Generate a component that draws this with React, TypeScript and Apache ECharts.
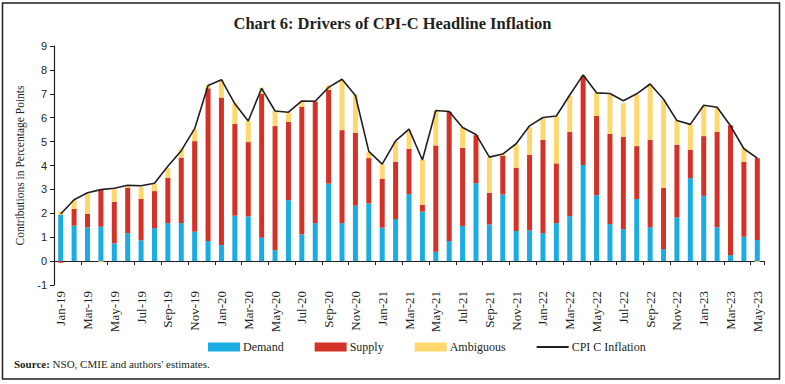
import React, { useEffect, useRef } from "react";
import * as echarts from "echarts";

const months = [
  "Jan-19","Feb-19","Mar-19","Apr-19","May-19","Jun-19","Jul-19","Aug-19","Sep-19","Oct-19","Nov-19","Dec-19",
  "Jan-20","Feb-20","Mar-20","Apr-20","May-20","Jun-20","Jul-20","Aug-20","Sep-20","Oct-20","Nov-20","Dec-20",
  "Jan-21","Feb-21","Mar-21","Apr-21","May-21","Jun-21","Jul-21","Aug-21","Sep-21","Oct-21","Nov-21","Dec-21",
  "Jan-22","Feb-22","Mar-22","Apr-22","May-22","Jun-22","Jul-22","Aug-22","Sep-22","Oct-22","Nov-22","Dec-22",
  "Jan-23","Feb-23","Mar-23","Apr-23","May-23",
];

const demand = [
  1.93, 1.48, 1.41, 1.44, 0.74, 1.17, 0.87, 1.38, 1.59, 1.59, 1.23, 0.84,
  0.67, 1.90, 1.87, 0.98, 0.46, 2.55, 1.12, 1.59, 3.24, 1.59, 2.32, 2.41,
  1.40, 1.76, 2.80, 2.07, 0.39, 0.84, 1.47, 3.26, 1.53, 2.79, 1.26, 1.28,
  1.17, 1.59, 1.88, 4.02, 2.76, 1.55, 1.34, 2.60, 1.42, 0.50, 1.83, 3.47,
  2.73, 1.41, 0.25, 1.02, 0.88,
];

const supply = [
  -0.07, 0.70, 0.57, 1.53, 1.74, 1.90, 1.73, 1.55, 1.90, 2.74, 3.79, 6.39,
  6.17, 3.85, 3.11, 6.01, 5.19, 3.27, 5.34, 5.08, 3.92, 3.89, 3.04, 1.90,
  2.05, 2.40, 1.90, 0.29, 4.45, 5.41, 3.27, 2.01, 1.33, 1.62, 2.65, 3.16,
  3.91, 2.50, 3.52, 3.72, 3.31, 3.77, 3.86, 2.21, 3.66, 2.57, 3.04, 1.19,
  2.50, 4.00, 5.43, 3.14, 3.43,
];

const ambiguous = [
  0.14, 0.37, 0.85, -0.05, 0.53, 0.08, 0.51, 0.31, 0.40, 0.37, 0.49, 0.11,
  0.74, 0.85, 0.88, 0.27, 0.63, 0.40, 0.24, 0.03, 0.19, 2.08, 1.62, 0.25,
  0.60, 0.86, 0.77, 1.87, 1.44, 0.02, 0.86, 0.00, 1.48, 0.07, 0.97, 1.16,
  0.89, 1.97, 1.52, 0.05, 0.96, 1.66, 1.41, 2.14, 2.31, 3.66, 1.02, 1.06,
  1.24, 1.01, 0.01, 0.58, -0.04,
];

const cpi = [
  1.97, 2.57, 2.86, 2.99, 3.05, 3.17, 3.15, 3.26, 3.97, 4.62, 5.54, 7.35,
  7.59, 6.58, 5.86, 7.23, 6.28, 6.23, 6.70, 6.69, 7.27, 7.61, 6.93, 4.59,
  4.06, 5.03, 5.52, 4.23, 6.30, 6.26, 5.59, 5.30, 4.35, 4.48, 4.91, 5.66,
  6.01, 6.07, 6.95, 7.79, 7.04, 7.01, 6.71, 7.00, 7.41, 6.77, 5.88, 5.72,
  6.52, 6.44, 5.66, 4.70, 4.31,
];

const SERIF = "'Liberation Serif', 'DejaVu Serif', serif";
const SANS = "'Liberation Sans', 'DejaVu Sans', sans-serif";

export default function App() {
  const ref = useRef<HTMLDivElement>(null);

  useEffect(() => {
    if (!ref.current) return;
    const chart = echarts.init(ref.current, undefined, { renderer: "svg" });
    const barW = 5;
    chart.setOption({
      animation: false,
      backgroundColor: "#ffffff",
      title: {
        text: "Chart 6: Drivers of CPI-C Headline Inflation",
        left: "center",
        top: 10,
        textStyle: { fontFamily: SERIF, fontSize: 16.5, fontWeight: "bold", color: "#231f20" },
      },
      grid: { left: 54, right: 21, top: 46, bottom: 99, containLabel: false },
      legend: {
        left: 203,
        top: 336,
        itemWidth: 32,
        itemHeight: 9,
        itemGap: 31,
        textStyle: { fontFamily: SERIF, fontSize: 12, color: "#231f20", padding: [0, 0, 0, -2] },
        data: [
          { name: "Demand", icon: "rect" },
          { name: "Supply", icon: "rect" },
          { name: "Ambiguous", icon: "rect" },
          { name: "CPI C Inflation", icon: "path://M0,0 L32,0 L32,1.8 L0,1.8 Z" },
        ],
      },
      xAxis: [
        {
          type: "category",
          data: months,
          position: "bottom",
          axisLine: { show: false, onZero: false },
          axisTick: { show: false },
          axisLabel: {
            interval: 1,
            rotate: 90,
            margin: 6,
            fontFamily: SERIF,
            fontSize: 13,
            color: "#231f20",
          },
        },
        {
          type: "category",
          data: months,
          position: "bottom",
          axisLine: { show: true, onZero: true, lineStyle: { color: "#231f20", width: 1.2 } },
          axisTick: { show: true, interval: 1, length: 4, lineStyle: { color: "#231f20" } },
          axisLabel: { show: false },
        },
      ],
      yAxis: {
        type: "value",
        min: -1,
        max: 9,
        interval: 1,
        name: "Contributions in Percentage Points",
        nameLocation: "middle",
        nameGap: 24,
        nameTextStyle: { fontFamily: SERIF, fontSize: 11.5, color: "#231f20" },
        axisLine: { show: true, lineStyle: { color: "#231f20", width: 1.2 } },
        axisTick: { show: true, length: 4, lineStyle: { color: "#231f20" } },
        axisLabel: { fontFamily: SANS, fontSize: 11, color: "#231f20", margin: 7 },
        splitLine: { show: false },
      },
      series: [
        {
          name: "Demand",
          type: "bar",
          stack: "total",
          barWidth: barW,
          data: demand,
          itemStyle: { color: "#1aace3" },
        },
        {
          name: "Supply",
          type: "bar",
          stack: "total",
          barWidth: barW,
          data: supply,
          itemStyle: { color: "#d43226" },
        },
        {
          name: "Ambiguous",
          type: "bar",
          stack: "total",
          barWidth: barW,
          data: ambiguous,
          itemStyle: { color: "#fed86d" },
        },
        {
          name: "CPI C Inflation",
          type: "line",
          data: cpi,
          symbol: "none",
          lineStyle: { color: "#231f20", width: 1.6 },
          itemStyle: { color: "#231f20" },
          z: 5,
        },
      ],
      graphic: [
        {
          type: "rect",
          shape: { x: 2.5, y: 3, width: 777, height: 376 },
          style: { fill: "none", stroke: "#231f20", lineWidth: 1.5 },
          silent: true,
        },
        {
          type: "text",
          left: 14,
          top: 358,
          style: {
            text: "{b|Source:} NSO, CMIE and authors' estimates.",
            rich: {
              b: { fontFamily: SERIF, fontSize: 11, fontWeight: "bold", fill: "#231f20" },
            },
            font: `11px ${SERIF}`,
            fill: "#231f20",
          },
        },
      ],
    });
    return () => chart.dispose();
  }, []);

  return (
    <div
      ref={ref}
      style={{ position: "fixed", left: 0, top: 0, width: 785, height: 384, background: "#fff" }}
    />
  );
}
